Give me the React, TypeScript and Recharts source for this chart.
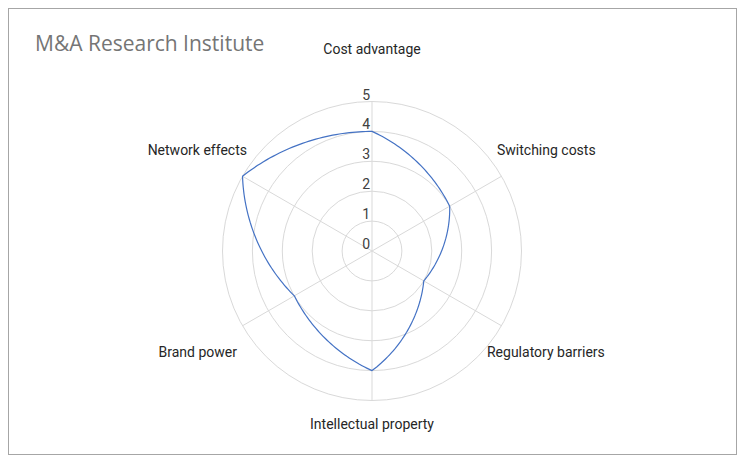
import React from 'react';
import { RadarChart, Radar, PolarGrid, PolarAngleAxis, PolarRadiusAxis } from 'recharts';

const categories = ['Cost advantage', 'Switching costs', 'Regulatory barriers', 'Intellectual property', 'Brand power', 'Network effects'];
const scores = [4, 3, 2, 4, 3, 5];
const radiusTicks = [0, 1, 2, 3, 4, 5];
const title = 'M&A Research Institute';

const data = categories.map((c, i) => ({ category: c, score: scores[i] }));

// label placement tweaks relative to recharts' tick anchor, by category index
const labelOffsets = [
  { dx: 0, dy: -44.5, anchor: 'middle' },
  { dx: -11.4, dy: -22.3, anchor: 'start' },
  { dx: -21.4, dy: 22.2, anchor: 'start' },
  { dx: 0, dy: 15.5, anchor: 'middle' },
  { dx: 1.4, dy: 22.2, anchor: 'end' },
  { dx: 11.4, dy: -22.3, anchor: 'end' },
];

const AngleTick = (props: any) => {
  const { x, y, payload, index } = props;
  const o = labelOffsets[index] || { dx: 0, dy: 0, anchor: 'middle' };
  return (
    <text
      x={x + o.dx}
      y={y + o.dy}
      textAnchor={o.anchor}
      dominantBaseline="central"
      fontFamily="Roboto"
      fontSize={14}
      fill="#262626"
    >
      {payload.value}
    </text>
  );
};

const RadiusTick = (props: any) => {
  const { x, y, payload } = props;
  return (
    <text
      x={x - 2}
      y={y - 7}
      textAnchor="end"
      dominantBaseline="central"
      fontFamily="Roboto"
      fontSize={14}
      fill="#404040"
    >
      {payload.value}
    </text>
  );
};

const RAD = Math.PI / 180;

// smoothed radar outline: blend of straight chord and polar (spiral) interpolation
const SmoothShape = (props: any) => {
  const pts: any[] = props.points || [];
  const n = pts.length;
  if (n < 3) return null;
  const blend = 0.6;
  const steps = 40;
  const p0 = pts[0];
  const cx = p0.cx ?? p0.x - p0.radius * Math.cos(-p0.angle * RAD);
  const cy = p0.cy ?? p0.y - p0.radius * Math.sin(-p0.angle * RAD);
  let d = `M${p0.x},${p0.y}`;
  for (let i = 0; i < n; i++) {
    const a = pts[i];
    const b = pts[(i + 1) % n];
    let dAng = b.angle - a.angle;
    while (dAng > 180) dAng -= 360;
    while (dAng <= -180) dAng += 360;
    for (let s = 1; s <= steps; s++) {
      const t = s / steps;
      const ang = a.angle + dAng * t;
      const r = a.radius + (b.radius - a.radius) * t;
      const sx = cx + r * Math.cos(-ang * RAD);
      const sy = cy + r * Math.sin(-ang * RAD);
      const lx = a.x + (b.x - a.x) * t;
      const ly = a.y + (b.y - a.y) * t;
      const px = lx + blend * (sx - lx);
      const py = ly + blend * (sy - ly);
      d += ` L${px.toFixed(2)},${py.toFixed(2)}`;
    }
  }
  d += ' Z';
  return <path d={d} fill="none" stroke="#4472C4" strokeWidth={1.2} strokeLinejoin="round" />;
};

export default function App() {
  return (
    <div style={{ position: 'relative', width: 729, height: 447, background: '#fff' }}>
      <RadarChart
        width={729}
        height={447}
        data={data}
        cx={364}
        cy={243}
        outerRadius={149.5}
        margin={{ top: 0, right: 0, bottom: 0, left: 0 }}
      >
        <PolarGrid gridType="circle" stroke="#d9d9d9" strokeWidth={1} />
        <PolarAngleAxis dataKey="category" tick={<AngleTick />} tickLine={false} axisLine={false} />
        <PolarRadiusAxis
          angle={90}
          domain={[0, 5]}
          ticks={radiusTicks as any}
          tickCount={6}
          type="number"
          axisLine={false}
          tickLine={false}
          tick={<RadiusTick />}
        />
        <Radar dataKey="score" shape={<SmoothShape />} isAnimationActive={false} fill="none" stroke="#4472C4" />
      </RadarChart>
      <div
        style={{
          position: 'absolute',
          left: 27,
          top: 20,
          fontFamily: '"Open Sans"',
          fontSize: 21,
          color: '#757575',
          lineHeight: '30px',
          whiteSpace: 'nowrap',
        }}
      >
        {title}
      </div>
      <div
        style={{
          position: 'absolute',
          left: 0,
          top: 0,
          width: 729,
          height: 447,
          boxSizing: 'border-box',
          border: '1px solid #a6a6a6',
          pointerEvents: 'none',
        }}
      />
    </div>
  );
}
